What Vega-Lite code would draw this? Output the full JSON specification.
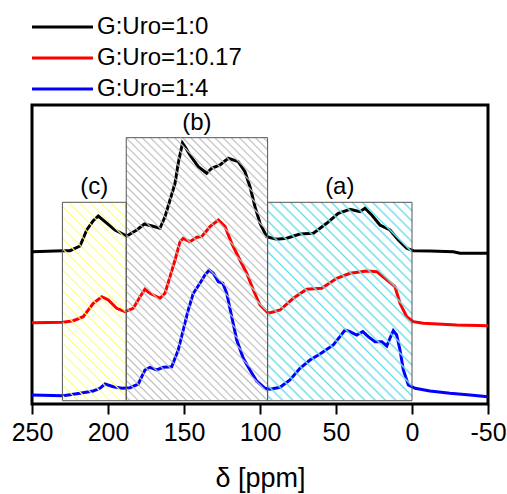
{
"$schema": "https://vega.github.io/schema/vega-lite/v6.json",
"width": 456, "height": 299,
"autosize": {"type": "none"},
"padding": {"left": 32, "top": 105, "right": 19, "bottom": 90},
"background": "white",
"config": {"view": {"stroke": "black", "strokeWidth": 3}, "font": "Liberation Sans",
"axisX": {"tickSize": 10, "tickWidth": 2, "tickColor": "black", "domain": false, "grid": false,
"labelFontSize": 25, "labelFont": "Liberation Sans", "labelColor": "black", "labelPadding": 6,
"labelFlush": false, "labelOverlap": false,
"titleFontSize": 27, "titleFont": "Liberation Sans", "titleFontWeight": "normal", "titleColor": "black", "titlePadding": 20}},
"datasets": {
"regions": [
{"region": "(c)", "x1": 230, "x2": 188, "y1": 3.3, "y2": 201.7},
{"region": "(b)", "x1": 188, "x2": 95, "y1": 3.3, "y2": 266.3},
{"region": "(a)", "x1": 95, "x2": 0, "y1": 3.3, "y2": 201.7}
],
"curves": [
{"series":"G:Uro=1:0","ppm":250,"intensity":152.3},{"series":"G:Uro=1:0","ppm":229.6,"intensity":153.3},{"series":"G:Uro=1:0","ppm":225,"intensity":153.3},{"series":"G:Uro=1:0","ppm":218.4,"intensity":158},{"series":"G:Uro=1:0","ppm":214,"intensity":174},{"series":"G:Uro=1:0","ppm":209.7,"intensity":183.3},{"series":"G:Uro=1:0","ppm":206.4,"intensity":188},{"series":"G:Uro=1:0","ppm":202,"intensity":182.3},{"series":"G:Uro=1:0","ppm":195.4,"intensity":174},{"series":"G:Uro=1:0","ppm":187.7,"intensity":168},{"series":"G:Uro=1:0","ppm":181.1,"intensity":174},{"series":"G:Uro=1:0","ppm":176,"intensity":180},{"series":"G:Uro=1:0","ppm":171.1,"intensity":178},{"series":"G:Uro=1:0","ppm":165.8,"intensity":175.7},{"series":"G:Uro=1:0","ppm":162.5,"intensity":187.3},{"series":"G:Uro=1:0","ppm":159.2,"intensity":204},{"series":"G:Uro=1:0","ppm":155.9,"intensity":220.7},{"series":"G:Uro=1:0","ppm":153.8,"intensity":240.7},{"series":"G:Uro=1:0","ppm":151,"intensity":261},{"series":"G:Uro=1:0","ppm":149.3,"intensity":257.3},{"series":"G:Uro=1:0","ppm":146.1,"intensity":249},{"series":"G:Uro=1:0","ppm":140.6,"intensity":237.3},{"series":"G:Uro=1:0","ppm":135.1,"intensity":230.7},{"series":"G:Uro=1:0","ppm":131.8,"intensity":235.7},{"series":"G:Uro=1:0","ppm":126.3,"intensity":239},{"series":"G:Uro=1:0","ppm":120.9,"intensity":245.7},{"series":"G:Uro=1:0","ppm":114.3,"intensity":242.3},{"series":"G:Uro=1:0","ppm":109.9,"intensity":232.3},{"series":"G:Uro=1:0","ppm":106.6,"intensity":217.3},{"series":"G:Uro=1:0","ppm":103.3,"intensity":197.3},{"series":"G:Uro=1:0","ppm":100,"intensity":180.7},{"series":"G:Uro=1:0","ppm":95.6,"intensity":167.3},{"series":"G:Uro=1:0","ppm":89,"intensity":164.7},{"series":"G:Uro=1:0","ppm":82.4,"intensity":165.7},{"series":"G:Uro=1:0","ppm":73.7,"intensity":170},{"series":"G:Uro=1:0","ppm":64.9,"intensity":170.7},{"series":"G:Uro=1:0","ppm":56.1,"intensity":180.7},{"series":"G:Uro=1:0","ppm":48.5,"intensity":190.7},{"series":"G:Uro=1:0","ppm":40.8,"intensity":194.7},{"series":"G:Uro=1:0","ppm":34.2,"intensity":192.3},{"series":"G:Uro=1:0","ppm":30.9,"intensity":195.7},{"series":"G:Uro=1:0","ppm":26.5,"intensity":189},{"series":"G:Uro=1:0","ppm":21.1,"intensity":179},{"series":"G:Uro=1:0","ppm":14.5,"intensity":174},{"series":"G:Uro=1:0","ppm":9,"intensity":164},{"series":"G:Uro=1:0","ppm":3.5,"intensity":155.7},{"series":"G:Uro=1:0","ppm":-0.9,"intensity":153.3},{"series":"G:Uro=1:0","ppm":-11.8,"intensity":153},{"series":"G:Uro=1:0","ppm":-27.2,"intensity":152.3},{"series":"G:Uro=1:0","ppm":-31.6,"intensity":150.7},{"series":"G:Uro=1:0","ppm":-50,"intensity":150.7},
{"series":"G:Uro=1:0.17","ppm":250,"intensity":81.3},{"series":"G:Uro=1:0.17","ppm":229.4,"intensity":81.7},{"series":"G:Uro=1:0.17","ppm":222.8,"intensity":83.3},{"series":"G:Uro=1:0.17","ppm":216.3,"intensity":87.3},{"series":"G:Uro=1:0.17","ppm":209.7,"intensity":100.7},{"series":"G:Uro=1:0.17","ppm":204.1,"intensity":107.3},{"series":"G:Uro=1:0.17","ppm":199.8,"intensity":104},{"series":"G:Uro=1:0.17","ppm":194.3,"intensity":95.7},{"series":"G:Uro=1:0.17","ppm":188.8,"intensity":92.3},{"series":"G:Uro=1:0.17","ppm":183.4,"intensity":95.7},{"series":"G:Uro=1:0.17","ppm":178.9,"intensity":107.3},{"series":"G:Uro=1:0.17","ppm":175.7,"intensity":114.7},{"series":"G:Uro=1:0.17","ppm":172.4,"intensity":110.7},{"series":"G:Uro=1:0.17","ppm":165.8,"intensity":105.7},{"series":"G:Uro=1:0.17","ppm":162.5,"intensity":110.7},{"series":"G:Uro=1:0.17","ppm":159.2,"intensity":127.3},{"series":"G:Uro=1:0.17","ppm":155.9,"intensity":144},{"series":"G:Uro=1:0.17","ppm":152.6,"intensity":162.3},{"series":"G:Uro=1:0.17","ppm":150.5,"intensity":165.7},{"series":"G:Uro=1:0.17","ppm":146.1,"intensity":162.3},{"series":"G:Uro=1:0.17","ppm":141.6,"intensity":166.7},{"series":"G:Uro=1:0.17","ppm":138.4,"intensity":167.3},{"series":"G:Uro=1:0.17","ppm":132.9,"intensity":177.3},{"series":"G:Uro=1:0.17","ppm":127.4,"intensity":184},{"series":"G:Uro=1:0.17","ppm":123,"intensity":177.3},{"series":"G:Uro=1:0.17","ppm":118.6,"intensity":160.7},{"series":"G:Uro=1:0.17","ppm":113.2,"intensity":144},{"series":"G:Uro=1:0.17","ppm":108.7,"intensity":130.7},{"series":"G:Uro=1:0.17","ppm":104.4,"intensity":114},{"series":"G:Uro=1:0.17","ppm":100,"intensity":99},{"series":"G:Uro=1:0.17","ppm":94.5,"intensity":90.7},{"series":"G:Uro=1:0.17","ppm":86.8,"intensity":94},{"series":"G:Uro=1:0.17","ppm":78.1,"intensity":105.7},{"series":"G:Uro=1:0.17","ppm":69.3,"intensity":114.7},{"series":"G:Uro=1:0.17","ppm":59.4,"intensity":115.7},{"series":"G:Uro=1:0.17","ppm":49.5,"intensity":125.7},{"series":"G:Uro=1:0.17","ppm":40.8,"intensity":130.7},{"series":"G:Uro=1:0.17","ppm":29.8,"intensity":133},{"series":"G:Uro=1:0.17","ppm":23.2,"intensity":132.3},{"series":"G:Uro=1:0.17","ppm":17.8,"intensity":125.7},{"series":"G:Uro=1:0.17","ppm":11.2,"intensity":117.3},{"series":"G:Uro=1:0.17","ppm":7.9,"intensity":100.7},{"series":"G:Uro=1:0.17","ppm":3.5,"intensity":87.3},{"series":"G:Uro=1:0.17","ppm":-0.9,"intensity":82.3},{"series":"G:Uro=1:0.17","ppm":-7.4,"intensity":80.7},{"series":"G:Uro=1:0.17","ppm":-29.4,"intensity":79},{"series":"G:Uro=1:0.17","ppm":-50,"intensity":78.3},
{"series":"G:Uro=1:4","ppm":250,"intensity":9},{"series":"G:Uro=1:4","ppm":229.4,"intensity":8.3},{"series":"G:Uro=1:4","ppm":218.4,"intensity":10.7},{"series":"G:Uro=1:4","ppm":209.7,"intensity":13},{"series":"G:Uro=1:4","ppm":205.3,"intensity":15.7},{"series":"G:Uro=1:4","ppm":202,"intensity":20},{"series":"G:Uro=1:4","ppm":196.5,"intensity":17.3},{"series":"G:Uro=1:4","ppm":191,"intensity":15.7},{"series":"G:Uro=1:4","ppm":185.5,"intensity":16.3},{"series":"G:Uro=1:4","ppm":180.1,"intensity":20},{"series":"G:Uro=1:4","ppm":175.7,"intensity":34},{"series":"G:Uro=1:4","ppm":172.4,"intensity":36.7},{"series":"G:Uro=1:4","ppm":168,"intensity":34},{"series":"G:Uro=1:4","ppm":163.6,"intensity":36.7},{"series":"G:Uro=1:4","ppm":158.1,"intensity":37.3},{"series":"G:Uro=1:4","ppm":153.8,"intensity":54},{"series":"G:Uro=1:4","ppm":150.5,"intensity":74},{"series":"G:Uro=1:4","ppm":147.2,"intensity":94},{"series":"G:Uro=1:4","ppm":143.9,"intensity":110.7},{"series":"G:Uro=1:4","ppm":139.5,"intensity":120.7},{"series":"G:Uro=1:4","ppm":136.2,"intensity":129},{"series":"G:Uro=1:4","ppm":133.4,"intensity":134},{"series":"G:Uro=1:4","ppm":130.7,"intensity":130.7},{"series":"G:Uro=1:4","ppm":127.4,"intensity":122.3},{"series":"G:Uro=1:4","ppm":124.5,"intensity":120.7},{"series":"G:Uro=1:4","ppm":121.9,"intensity":110.7},{"series":"G:Uro=1:4","ppm":118.6,"intensity":87.3},{"series":"G:Uro=1:4","ppm":115.3,"intensity":64},{"series":"G:Uro=1:4","ppm":111,"intensity":45.7},{"series":"G:Uro=1:4","ppm":106.6,"intensity":34},{"series":"G:Uro=1:4","ppm":102.2,"intensity":23},{"series":"G:Uro=1:4","ppm":96.7,"intensity":15.7},{"series":"G:Uro=1:4","ppm":93.4,"intensity":14.7},{"series":"G:Uro=1:4","ppm":86.8,"intensity":16.7},{"series":"G:Uro=1:4","ppm":80.3,"intensity":24},{"series":"G:Uro=1:4","ppm":73.7,"intensity":35.7},{"series":"G:Uro=1:4","ppm":67.1,"intensity":44},{"series":"G:Uro=1:4","ppm":60.5,"intensity":50},{"series":"G:Uro=1:4","ppm":51.8,"intensity":59},{"series":"G:Uro=1:4","ppm":47.4,"intensity":67.3},{"series":"G:Uro=1:4","ppm":44.1,"intensity":74},{"series":"G:Uro=1:4","ppm":40.8,"intensity":72.3},{"series":"G:Uro=1:4","ppm":36.4,"intensity":69},{"series":"G:Uro=1:4","ppm":32.4,"intensity":72.3},{"series":"G:Uro=1:4","ppm":28.8,"intensity":67.3},{"series":"G:Uro=1:4","ppm":24.3,"intensity":62.3},{"series":"G:Uro=1:4","ppm":19.9,"intensity":62.3},{"series":"G:Uro=1:4","ppm":16.6,"intensity":58},{"series":"G:Uro=1:4","ppm":14.5,"intensity":65.7},{"series":"G:Uro=1:4","ppm":12.3,"intensity":73.3},{"series":"G:Uro=1:4","ppm":10.1,"intensity":69},{"series":"G:Uro=1:4","ppm":7.9,"intensity":54},{"series":"G:Uro=1:4","ppm":5.7,"intensity":34},{"series":"G:Uro=1:4","ppm":2.4,"intensity":19},{"series":"G:Uro=1:4","ppm":-2,"intensity":15.7},{"series":"G:Uro=1:4","ppm":-11.8,"intensity":13},{"series":"G:Uro=1:4","ppm":-25,"intensity":10.7},{"series":"G:Uro=1:4","ppm":-38.2,"intensity":9},{"series":"G:Uro=1:4","ppm":-50,"intensity":7.3}
]
},
"layer": [
{
"data": {"name": "curves"},
"mark": {"type": "line", "strokeWidth": 3, "clip": false},
"encoding": {
"x": {"field": "ppm", "type": "quantitative", "title": "δ [ppm]",
"scale": {"domain": [-50, 250], "reverse": true, "nice": false, "zero": false},
"axis": {"values": [250,225,200,175,150,125,100,75,50,25,0,-25,-50],
"labelExpr": "datum.value % 50 === 0 ? '' + datum.value : ''",
"tickDash": {"condition": {"test": "datum.value % 50 !== 0", "value": [5, 30]}, "value": [10, 0]}}},
"y": {"field": "intensity", "type": "quantitative", "scale": {"domain": [0, 299], "nice": false, "zero": false}, "axis": null},
"color": {"field": "series", "type": "nominal",
"scale": {"domain": ["G:Uro=1:0", "G:Uro=1:0.17", "G:Uro=1:4"], "range": ["#000000", "#ff0000", "#0000ff"]},
"legend": {"orient": "none", "legendX": 0, "legendY": -90, "title": null, "padding": 0,
"symbolType": "M-12,0H49", "symbolSize": 4, "symbolStrokeWidth": 3,
"labelFontSize": 24, "labelFont": "Liberation Sans", "labelColor": "black", "labelOffset": 41, "labelLimit": 300, "rowPadding": 7}}
}
},
{
"data": {"name": "regions"},
"transform": [{"filter": "datum.region === '(c)'"}],
"mark": {"type": "rect", "stroke": "#555555", "strokeWidth": 1,
"fill": {"gradient": "linear", "x1": 0, "y1": 1, "x2": 0.3852, "y2": -0.1977, "stops": [
{"offset":0.014,"color":"rgba(255,255,120,0)"},{"offset":0.02,"color":"#ffff78"},{"offset":0.026,"color":"rgba(255,255,120,0)"},
{"offset":0.054,"color":"rgba(255,255,120,0)"},{"offset":0.06,"color":"#ffff78"},{"offset":0.066,"color":"rgba(255,255,120,0)"},
{"offset":0.094,"color":"rgba(255,255,120,0)"},{"offset":0.1,"color":"#ffff78"},{"offset":0.106,"color":"rgba(255,255,120,0)"},
{"offset":0.134,"color":"rgba(255,255,120,0)"},{"offset":0.14,"color":"#ffff78"},{"offset":0.146,"color":"rgba(255,255,120,0)"},
{"offset":0.174,"color":"rgba(255,255,120,0)"},{"offset":0.18,"color":"#ffff78"},{"offset":0.186,"color":"rgba(255,255,120,0)"},
{"offset":0.214,"color":"rgba(255,255,120,0)"},{"offset":0.22,"color":"#ffff78"},{"offset":0.226,"color":"rgba(255,255,120,0)"},
{"offset":0.254,"color":"rgba(255,255,120,0)"},{"offset":0.26,"color":"#ffff78"},{"offset":0.266,"color":"rgba(255,255,120,0)"},
{"offset":0.294,"color":"rgba(255,255,120,0)"},{"offset":0.3,"color":"#ffff78"},{"offset":0.306,"color":"rgba(255,255,120,0)"},
{"offset":0.334,"color":"rgba(255,255,120,0)"},{"offset":0.34,"color":"#ffff78"},{"offset":0.346,"color":"rgba(255,255,120,0)"},
{"offset":0.374,"color":"rgba(255,255,120,0)"},{"offset":0.38,"color":"#ffff78"},{"offset":0.386,"color":"rgba(255,255,120,0)"},
{"offset":0.414,"color":"rgba(255,255,120,0)"},{"offset":0.42,"color":"#ffff78"},{"offset":0.426,"color":"rgba(255,255,120,0)"},
{"offset":0.454,"color":"rgba(255,255,120,0)"},{"offset":0.46,"color":"#ffff78"},{"offset":0.466,"color":"rgba(255,255,120,0)"},
{"offset":0.494,"color":"rgba(255,255,120,0)"},{"offset":0.5,"color":"#ffff78"},{"offset":0.506,"color":"rgba(255,255,120,0)"},
{"offset":0.534,"color":"rgba(255,255,120,0)"},{"offset":0.54,"color":"#ffff78"},{"offset":0.546,"color":"rgba(255,255,120,0)"},
{"offset":0.574,"color":"rgba(255,255,120,0)"},{"offset":0.58,"color":"#ffff78"},{"offset":0.586,"color":"rgba(255,255,120,0)"},
{"offset":0.614,"color":"rgba(255,255,120,0)"},{"offset":0.62,"color":"#ffff78"},{"offset":0.626,"color":"rgba(255,255,120,0)"},
{"offset":0.654,"color":"rgba(255,255,120,0)"},{"offset":0.66,"color":"#ffff78"},{"offset":0.666,"color":"rgba(255,255,120,0)"},
{"offset":0.694,"color":"rgba(255,255,120,0)"},{"offset":0.7,"color":"#ffff78"},{"offset":0.706,"color":"rgba(255,255,120,0)"},
{"offset":0.734,"color":"rgba(255,255,120,0)"},{"offset":0.74,"color":"#ffff78"},{"offset":0.746,"color":"rgba(255,255,120,0)"},
{"offset":0.774,"color":"rgba(255,255,120,0)"},{"offset":0.78,"color":"#ffff78"},{"offset":0.786,"color":"rgba(255,255,120,0)"},
{"offset":0.814,"color":"rgba(255,255,120,0)"},{"offset":0.82,"color":"#ffff78"},{"offset":0.826,"color":"rgba(255,255,120,0)"},
{"offset":0.854,"color":"rgba(255,255,120,0)"},{"offset":0.86,"color":"#ffff78"},{"offset":0.866,"color":"rgba(255,255,120,0)"},
{"offset":0.894,"color":"rgba(255,255,120,0)"},{"offset":0.9,"color":"#ffff78"},{"offset":0.906,"color":"rgba(255,255,120,0)"},
{"offset":0.934,"color":"rgba(255,255,120,0)"},{"offset":0.94,"color":"#ffff78"},{"offset":0.946,"color":"rgba(255,255,120,0)"},
{"offset":0.974,"color":"rgba(255,255,120,0)"},{"offset":0.98,"color":"#ffff78"},{"offset":0.986,"color":"rgba(255,255,120,0)"}
]}},
"encoding": {
"x": {"field": "x1", "type": "quantitative", "title": "δ [ppm]"},
"x2": {"field": "x2"},
"y": {"field": "y1", "type": "quantitative", "axis": null},
"y2": {"field": "y2"}
}
},
{
"data": {"name": "regions"},
"transform": [{"filter": "datum.region === '(b)'"}],
"mark": {"type": "rect", "stroke": "#555555", "strokeWidth": 1,
"fill": {"gradient": "linear", "x1": 0, "y1": 1, "x2": 0.6413, "y2": -0.1928, "stops": [
{"offset":0.006,"color":"rgba(190,190,190,0)"},{"offset":0.01,"color":"#bebebe"},{"offset":0.014,"color":"rgba(190,190,190,0)"},
{"offset":0.026,"color":"rgba(190,190,190,0)"},{"offset":0.03,"color":"#bebebe"},{"offset":0.034,"color":"rgba(190,190,190,0)"},
{"offset":0.046,"color":"rgba(190,190,190,0)"},{"offset":0.05,"color":"#bebebe"},{"offset":0.054,"color":"rgba(190,190,190,0)"},
{"offset":0.066,"color":"rgba(190,190,190,0)"},{"offset":0.07,"color":"#bebebe"},{"offset":0.074,"color":"rgba(190,190,190,0)"},
{"offset":0.086,"color":"rgba(190,190,190,0)"},{"offset":0.09,"color":"#bebebe"},{"offset":0.094,"color":"rgba(190,190,190,0)"},
{"offset":0.106,"color":"rgba(190,190,190,0)"},{"offset":0.11,"color":"#bebebe"},{"offset":0.114,"color":"rgba(190,190,190,0)"},
{"offset":0.126,"color":"rgba(190,190,190,0)"},{"offset":0.13,"color":"#bebebe"},{"offset":0.134,"color":"rgba(190,190,190,0)"},
{"offset":0.146,"color":"rgba(190,190,190,0)"},{"offset":0.15,"color":"#bebebe"},{"offset":0.154,"color":"rgba(190,190,190,0)"},
{"offset":0.166,"color":"rgba(190,190,190,0)"},{"offset":0.17,"color":"#bebebe"},{"offset":0.174,"color":"rgba(190,190,190,0)"},
{"offset":0.186,"color":"rgba(190,190,190,0)"},{"offset":0.19,"color":"#bebebe"},{"offset":0.194,"color":"rgba(190,190,190,0)"},
{"offset":0.206,"color":"rgba(190,190,190,0)"},{"offset":0.21,"color":"#bebebe"},{"offset":0.214,"color":"rgba(190,190,190,0)"},
{"offset":0.226,"color":"rgba(190,190,190,0)"},{"offset":0.23,"color":"#bebebe"},{"offset":0.234,"color":"rgba(190,190,190,0)"},
{"offset":0.246,"color":"rgba(190,190,190,0)"},{"offset":0.25,"color":"#bebebe"},{"offset":0.254,"color":"rgba(190,190,190,0)"},
{"offset":0.266,"color":"rgba(190,190,190,0)"},{"offset":0.27,"color":"#bebebe"},{"offset":0.274,"color":"rgba(190,190,190,0)"},
{"offset":0.286,"color":"rgba(190,190,190,0)"},{"offset":0.29,"color":"#bebebe"},{"offset":0.294,"color":"rgba(190,190,190,0)"},
{"offset":0.306,"color":"rgba(190,190,190,0)"},{"offset":0.31,"color":"#bebebe"},{"offset":0.314,"color":"rgba(190,190,190,0)"},
{"offset":0.326,"color":"rgba(190,190,190,0)"},{"offset":0.33,"color":"#bebebe"},{"offset":0.334,"color":"rgba(190,190,190,0)"},
{"offset":0.346,"color":"rgba(190,190,190,0)"},{"offset":0.35,"color":"#bebebe"},{"offset":0.354,"color":"rgba(190,190,190,0)"},
{"offset":0.366,"color":"rgba(190,190,190,0)"},{"offset":0.37,"color":"#bebebe"},{"offset":0.374,"color":"rgba(190,190,190,0)"},
{"offset":0.386,"color":"rgba(190,190,190,0)"},{"offset":0.39,"color":"#bebebe"},{"offset":0.394,"color":"rgba(190,190,190,0)"},
{"offset":0.406,"color":"rgba(190,190,190,0)"},{"offset":0.41,"color":"#bebebe"},{"offset":0.414,"color":"rgba(190,190,190,0)"},
{"offset":0.426,"color":"rgba(190,190,190,0)"},{"offset":0.43,"color":"#bebebe"},{"offset":0.434,"color":"rgba(190,190,190,0)"},
{"offset":0.446,"color":"rgba(190,190,190,0)"},{"offset":0.45,"color":"#bebebe"},{"offset":0.454,"color":"rgba(190,190,190,0)"},
{"offset":0.466,"color":"rgba(190,190,190,0)"},{"offset":0.47,"color":"#bebebe"},{"offset":0.474,"color":"rgba(190,190,190,0)"},
{"offset":0.486,"color":"rgba(190,190,190,0)"},{"offset":0.49,"color":"#bebebe"},{"offset":0.494,"color":"rgba(190,190,190,0)"},
{"offset":0.506,"color":"rgba(190,190,190,0)"},{"offset":0.51,"color":"#bebebe"},{"offset":0.514,"color":"rgba(190,190,190,0)"},
{"offset":0.526,"color":"rgba(190,190,190,0)"},{"offset":0.53,"color":"#bebebe"},{"offset":0.534,"color":"rgba(190,190,190,0)"},
{"offset":0.546,"color":"rgba(190,190,190,0)"},{"offset":0.55,"color":"#bebebe"},{"offset":0.554,"color":"rgba(190,190,190,0)"},
{"offset":0.566,"color":"rgba(190,190,190,0)"},{"offset":0.57,"color":"#bebebe"},{"offset":0.574,"color":"rgba(190,190,190,0)"},
{"offset":0.586,"color":"rgba(190,190,190,0)"},{"offset":0.59,"color":"#bebebe"},{"offset":0.594,"color":"rgba(190,190,190,0)"},
{"offset":0.606,"color":"rgba(190,190,190,0)"},{"offset":0.61,"color":"#bebebe"},{"offset":0.614,"color":"rgba(190,190,190,0)"},
{"offset":0.626,"color":"rgba(190,190,190,0)"},{"offset":0.63,"color":"#bebebe"},{"offset":0.634,"color":"rgba(190,190,190,0)"},
{"offset":0.646,"color":"rgba(190,190,190,0)"},{"offset":0.65,"color":"#bebebe"},{"offset":0.654,"color":"rgba(190,190,190,0)"},
{"offset":0.666,"color":"rgba(190,190,190,0)"},{"offset":0.67,"color":"#bebebe"},{"offset":0.674,"color":"rgba(190,190,190,0)"},
{"offset":0.686,"color":"rgba(190,190,190,0)"},{"offset":0.69,"color":"#bebebe"},{"offset":0.694,"color":"rgba(190,190,190,0)"},
{"offset":0.706,"color":"rgba(190,190,190,0)"},{"offset":0.71,"color":"#bebebe"},{"offset":0.714,"color":"rgba(190,190,190,0)"},
{"offset":0.726,"color":"rgba(190,190,190,0)"},{"offset":0.73,"color":"#bebebe"},{"offset":0.734,"color":"rgba(190,190,190,0)"},
{"offset":0.746,"color":"rgba(190,190,190,0)"},{"offset":0.75,"color":"#bebebe"},{"offset":0.754,"color":"rgba(190,190,190,0)"},
{"offset":0.766,"color":"rgba(190,190,190,0)"},{"offset":0.77,"color":"#bebebe"},{"offset":0.774,"color":"rgba(190,190,190,0)"},
{"offset":0.786,"color":"rgba(190,190,190,0)"},{"offset":0.79,"color":"#bebebe"},{"offset":0.794,"color":"rgba(190,190,190,0)"},
{"offset":0.806,"color":"rgba(190,190,190,0)"},{"offset":0.81,"color":"#bebebe"},{"offset":0.814,"color":"rgba(190,190,190,0)"},
{"offset":0.826,"color":"rgba(190,190,190,0)"},{"offset":0.83,"color":"#bebebe"},{"offset":0.834,"color":"rgba(190,190,190,0)"},
{"offset":0.846,"color":"rgba(190,190,190,0)"},{"offset":0.85,"color":"#bebebe"},{"offset":0.854,"color":"rgba(190,190,190,0)"},
{"offset":0.866,"color":"rgba(190,190,190,0)"},{"offset":0.87,"color":"#bebebe"},{"offset":0.874,"color":"rgba(190,190,190,0)"},
{"offset":0.886,"color":"rgba(190,190,190,0)"},{"offset":0.89,"color":"#bebebe"},{"offset":0.894,"color":"rgba(190,190,190,0)"},
{"offset":0.906,"color":"rgba(190,190,190,0)"},{"offset":0.91,"color":"#bebebe"},{"offset":0.914,"color":"rgba(190,190,190,0)"},
{"offset":0.926,"color":"rgba(190,190,190,0)"},{"offset":0.93,"color":"#bebebe"},{"offset":0.934,"color":"rgba(190,190,190,0)"},
{"offset":0.946,"color":"rgba(190,190,190,0)"},{"offset":0.95,"color":"#bebebe"},{"offset":0.954,"color":"rgba(190,190,190,0)"},
{"offset":0.966,"color":"rgba(190,190,190,0)"},{"offset":0.97,"color":"#bebebe"},{"offset":0.974,"color":"rgba(190,190,190,0)"},
{"offset":0.986,"color":"rgba(190,190,190,0)"},{"offset":0.99,"color":"#bebebe"},{"offset":0.994,"color":"rgba(190,190,190,0)"}
]}},
"encoding": {
"x": {"field": "x1", "type": "quantitative", "title": "δ [ppm]"},
"x2": {"field": "x2"},
"y": {"field": "y1", "type": "quantitative", "axis": null},
"y2": {"field": "y2"}
}
},
{
"data": {"name": "regions"},
"transform": [{"filter": "datum.region === '(a)'"}],
"mark": {"type": "rect", "stroke": "#555555", "strokeWidth": 1,
"fill": {"gradient": "linear", "x1": 0, "y1": 1, "x2": 0.8221, "y2": -0.1295, "stops": [
{"offset":0.009,"color":"rgba(111,223,234,0)"},{"offset":0.015,"color":"#6fdfea"},{"offset":0.021,"color":"rgba(111,223,234,0)"},
{"offset":0.039,"color":"rgba(111,223,234,0)"},{"offset":0.045,"color":"#6fdfea"},{"offset":0.051,"color":"rgba(111,223,234,0)"},
{"offset":0.069,"color":"rgba(111,223,234,0)"},{"offset":0.075,"color":"#6fdfea"},{"offset":0.081,"color":"rgba(111,223,234,0)"},
{"offset":0.099,"color":"rgba(111,223,234,0)"},{"offset":0.105,"color":"#6fdfea"},{"offset":0.111,"color":"rgba(111,223,234,0)"},
{"offset":0.129,"color":"rgba(111,223,234,0)"},{"offset":0.135,"color":"#6fdfea"},{"offset":0.141,"color":"rgba(111,223,234,0)"},
{"offset":0.159,"color":"rgba(111,223,234,0)"},{"offset":0.165,"color":"#6fdfea"},{"offset":0.171,"color":"rgba(111,223,234,0)"},
{"offset":0.189,"color":"rgba(111,223,234,0)"},{"offset":0.195,"color":"#6fdfea"},{"offset":0.201,"color":"rgba(111,223,234,0)"},
{"offset":0.219,"color":"rgba(111,223,234,0)"},{"offset":0.225,"color":"#6fdfea"},{"offset":0.231,"color":"rgba(111,223,234,0)"},
{"offset":0.249,"color":"rgba(111,223,234,0)"},{"offset":0.255,"color":"#6fdfea"},{"offset":0.261,"color":"rgba(111,223,234,0)"},
{"offset":0.279,"color":"rgba(111,223,234,0)"},{"offset":0.285,"color":"#6fdfea"},{"offset":0.291,"color":"rgba(111,223,234,0)"},
{"offset":0.309,"color":"rgba(111,223,234,0)"},{"offset":0.315,"color":"#6fdfea"},{"offset":0.321,"color":"rgba(111,223,234,0)"},
{"offset":0.339,"color":"rgba(111,223,234,0)"},{"offset":0.345,"color":"#6fdfea"},{"offset":0.351,"color":"rgba(111,223,234,0)"},
{"offset":0.369,"color":"rgba(111,223,234,0)"},{"offset":0.375,"color":"#6fdfea"},{"offset":0.381,"color":"rgba(111,223,234,0)"},
{"offset":0.399,"color":"rgba(111,223,234,0)"},{"offset":0.405,"color":"#6fdfea"},{"offset":0.411,"color":"rgba(111,223,234,0)"},
{"offset":0.429,"color":"rgba(111,223,234,0)"},{"offset":0.435,"color":"#6fdfea"},{"offset":0.441,"color":"rgba(111,223,234,0)"},
{"offset":0.459,"color":"rgba(111,223,234,0)"},{"offset":0.465,"color":"#6fdfea"},{"offset":0.471,"color":"rgba(111,223,234,0)"},
{"offset":0.489,"color":"rgba(111,223,234,0)"},{"offset":0.495,"color":"#6fdfea"},{"offset":0.501,"color":"rgba(111,223,234,0)"},
{"offset":0.519,"color":"rgba(111,223,234,0)"},{"offset":0.525,"color":"#6fdfea"},{"offset":0.531,"color":"rgba(111,223,234,0)"},
{"offset":0.549,"color":"rgba(111,223,234,0)"},{"offset":0.555,"color":"#6fdfea"},{"offset":0.561,"color":"rgba(111,223,234,0)"},
{"offset":0.579,"color":"rgba(111,223,234,0)"},{"offset":0.585,"color":"#6fdfea"},{"offset":0.591,"color":"rgba(111,223,234,0)"},
{"offset":0.609,"color":"rgba(111,223,234,0)"},{"offset":0.615,"color":"#6fdfea"},{"offset":0.621,"color":"rgba(111,223,234,0)"},
{"offset":0.639,"color":"rgba(111,223,234,0)"},{"offset":0.645,"color":"#6fdfea"},{"offset":0.651,"color":"rgba(111,223,234,0)"},
{"offset":0.669,"color":"rgba(111,223,234,0)"},{"offset":0.675,"color":"#6fdfea"},{"offset":0.681,"color":"rgba(111,223,234,0)"},
{"offset":0.699,"color":"rgba(111,223,234,0)"},{"offset":0.705,"color":"#6fdfea"},{"offset":0.711,"color":"rgba(111,223,234,0)"},
{"offset":0.729,"color":"rgba(111,223,234,0)"},{"offset":0.735,"color":"#6fdfea"},{"offset":0.741,"color":"rgba(111,223,234,0)"},
{"offset":0.759,"color":"rgba(111,223,234,0)"},{"offset":0.765,"color":"#6fdfea"},{"offset":0.771,"color":"rgba(111,223,234,0)"},
{"offset":0.789,"color":"rgba(111,223,234,0)"},{"offset":0.795,"color":"#6fdfea"},{"offset":0.801,"color":"rgba(111,223,234,0)"},
{"offset":0.819,"color":"rgba(111,223,234,0)"},{"offset":0.825,"color":"#6fdfea"},{"offset":0.831,"color":"rgba(111,223,234,0)"},
{"offset":0.849,"color":"rgba(111,223,234,0)"},{"offset":0.855,"color":"#6fdfea"},{"offset":0.861,"color":"rgba(111,223,234,0)"},
{"offset":0.879,"color":"rgba(111,223,234,0)"},{"offset":0.885,"color":"#6fdfea"},{"offset":0.891,"color":"rgba(111,223,234,0)"},
{"offset":0.909,"color":"rgba(111,223,234,0)"},{"offset":0.915,"color":"#6fdfea"},{"offset":0.921,"color":"rgba(111,223,234,0)"},
{"offset":0.939,"color":"rgba(111,223,234,0)"},{"offset":0.945,"color":"#6fdfea"},{"offset":0.951,"color":"rgba(111,223,234,0)"},
{"offset":0.969,"color":"rgba(111,223,234,0)"},{"offset":0.975,"color":"#6fdfea"},{"offset":0.981,"color":"rgba(111,223,234,0)"}
]}},
"encoding": {
"x": {"field": "x1", "type": "quantitative", "title": "δ [ppm]"},
"x2": {"field": "x2"},
"y": {"field": "y1", "type": "quantitative", "axis": null},
"y2": {"field": "y2"}
}
},
{
"data": {"name": "regions"},
"transform": [{"calculate": "(datum.x1 + datum.x2) / 2", "as": "mid"}],
"mark": {"type": "text", "fontSize": 24, "font": "Liberation Sans", "baseline": "bottom", "dy": -3, "color": "black"},
"encoding": {
"x": {"field": "mid", "type": "quantitative", "title": "δ [ppm]"},
"y": {"field": "y2", "type": "quantitative", "axis": null},
"text": {"field": "region", "type": "nominal"}
}
}
]
}
